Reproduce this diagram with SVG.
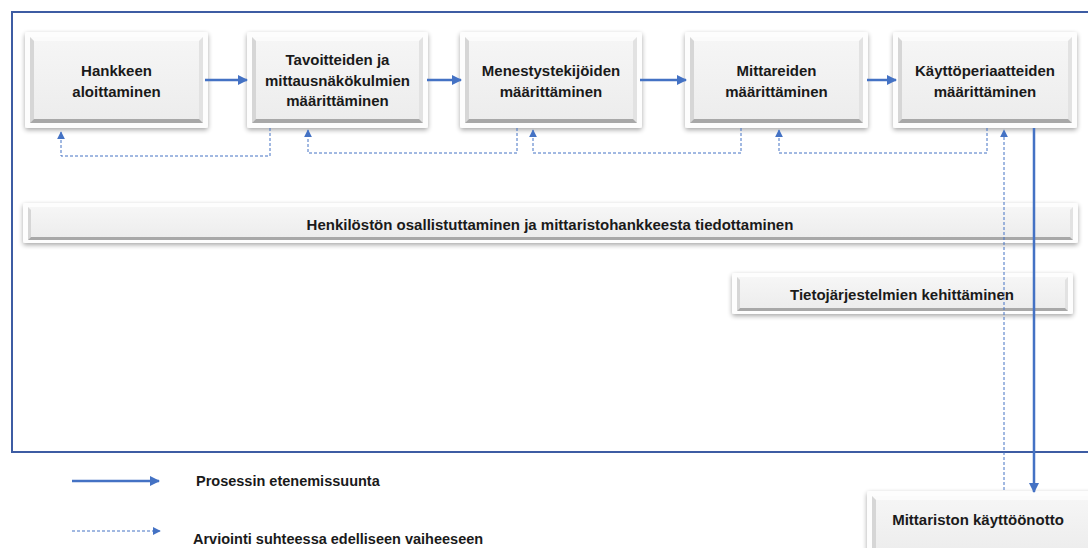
<svg xmlns="http://www.w3.org/2000/svg" width="1088" height="548" viewBox="0 0 1088 548">
  <style>
    .lbl { font-family: "Liberation Sans", Arial, sans-serif; font-weight: bold; font-size: 15px; fill: #1a1a1a; text-anchor: middle; }
    .leg { font-family: "Liberation Sans", Arial, sans-serif; font-weight: bold; font-size: 14.5px; fill: #1a1a1a; }
    .outer { fill: #fdfdfd; filter: url(#shadow); }
    .face { fill: url(#faceGrad); }
    .bt { fill: #fbfbfb; }
    .bl { fill: #d6d6d6; }
    .br { fill: #e2e2e2; }
    .bb { fill: #a8a8a8; }
    .flow { stroke: #4472C4; stroke-width: 2.5; fill: none; }
    .eval { stroke: #4472C4; stroke-width: 1; stroke-dasharray: 3 2; fill: none; }
  </style>
  <defs>
    <linearGradient id="faceGrad" x1="0" y1="0" x2="0" y2="1">
      <stop offset="0" stop-color="#f6f6f6"/>
      <stop offset="1" stop-color="#ececec"/>
    </linearGradient>
    <filter id="shadow" x="-10%" y="-20%" width="120%" height="150%">
      <feGaussianBlur in="SourceAlpha" stdDeviation="2.5"/>
      <feOffset dx="0" dy="2" result="b"/>
      <feComponentTransfer><feFuncA type="linear" slope="0.35"/></feComponentTransfer>
      <feMerge><feMergeNode/><feMergeNode in="SourceGraphic"/></feMerge>
    </filter>
    <marker id="arrowSolid" viewBox="0 0 10 10" refX="9" refY="5" markerWidth="4" markerHeight="4" orient="auto" markerUnits="strokeWidth">
      <path d="M0,0 L10,5 L0,10 z" fill="#4472C4"/>
    </marker>
    <marker id="arrowDash" viewBox="0 0 10 10" refX="9" refY="5" markerWidth="8" markerHeight="8" orient="auto" markerUnits="userSpaceOnUse">
      <path d="M0,0 L10,5 L0,10 z" fill="#4472C4"/>
    </marker>
  </defs>

  <rect width="1088" height="548" fill="#ffffff"/>

  <!-- outer frame -->
  <rect x="12" y="12" width="1090" height="440" fill="none" stroke="#3d5ca3" stroke-width="2"/>

  <!-- process steps -->
  <g id="step-aloitus">
    <rect class="outer" x="25" y="32" width="183" height="96" rx="2"/>
    <rect class="face" x="30" y="37" width="173" height="86"/>
    <polygon class="bt" points="30,37 203,37 199,41 34,41"/>
    <polygon class="bl" points="30,37 34,41 34,119 30,123"/>
    <polygon class="br" points="203,37 203,123 199,119 199,41"/>
    <polygon class="bb" points="30,123 203,123 199,119 34,119"/>
    <text class="lbl" x="116.5" y="76">Hankkeen</text>
    <text class="lbl" x="116.5" y="97">aloittaminen</text>
  </g>

  <g id="step-tavoitteet">
    <rect class="outer" x="247" y="32" width="181" height="96" rx="2"/>
    <rect class="face" x="252" y="37" width="171" height="86"/>
    <polygon class="bt" points="252,37 423,37 419,41 256,41"/>
    <polygon class="bl" points="252,37 256,41 256,119 252,123"/>
    <polygon class="br" points="423,37 423,123 419,119 419,41"/>
    <polygon class="bb" points="252,123 423,123 419,119 256,119"/>
    <text class="lbl" x="337.5" y="65">Tavoitteiden ja</text>
    <text class="lbl" x="337.5" y="86">mittausnäkökulmien</text>
    <text class="lbl" x="337.5" y="106">määrittäminen</text>
  </g>

  <g id="step-menestystekijat">
    <rect class="outer" x="460" y="32" width="182" height="96" rx="2"/>
    <rect class="face" x="465" y="37" width="172" height="86"/>
    <polygon class="bt" points="465,37 637,37 633,41 469,41"/>
    <polygon class="bl" points="465,37 469,41 469,119 465,123"/>
    <polygon class="br" points="637,37 637,123 633,119 633,41"/>
    <polygon class="bb" points="465,123 637,123 633,119 469,119"/>
    <text class="lbl" x="551" y="76">Menestystekijöiden</text>
    <text class="lbl" x="551" y="97">määrittäminen</text>
  </g>

  <g id="step-mittarit">
    <rect class="outer" x="685" y="32" width="183" height="96" rx="2"/>
    <rect class="face" x="690" y="37" width="173" height="86"/>
    <polygon class="bt" points="690,37 863,37 859,41 694,41"/>
    <polygon class="bl" points="690,37 694,41 694,119 690,123"/>
    <polygon class="br" points="863,37 863,123 859,119 859,41"/>
    <polygon class="bb" points="690,123 863,123 859,119 694,119"/>
    <text class="lbl" x="776.5" y="76">Mittareiden</text>
    <text class="lbl" x="776.5" y="97">määrittäminen</text>
  </g>

  <g id="step-kayttoperiaatteet">
    <rect class="outer" x="893" y="32" width="184" height="96" rx="2"/>
    <rect class="face" x="898" y="37" width="174" height="86"/>
    <polygon class="bt" points="898,37 1072,37 1068,41 902,41"/>
    <polygon class="bl" points="898,37 902,41 902,119 898,123"/>
    <polygon class="br" points="1072,37 1072,123 1068,119 1068,41"/>
    <polygon class="bb" points="898,123 1072,123 1068,119 902,119"/>
    <text class="lbl" x="985" y="76">Käyttöperiaatteiden</text>
    <text class="lbl" x="985" y="97">määrittäminen</text>
  </g>

  <!-- continuous activities -->
  <g id="band-henkilosto">
    <rect class="outer" x="23" y="203" width="1055" height="40" rx="2"/>
    <rect class="face" x="28" y="207" width="1045" height="33"/>
    <polygon class="bl" points="28,207 31,210 31,237 28,240"/>
    <polygon class="br" points="1073,207 1073,240 1070,237 1070,210"/>
    <polygon class="bb" points="28,240 1073,240 1070,237 31,237"/>
    <text class="lbl" x="550" y="230">Henkilöstön osallistuttaminen ja mittaristohankkeesta tiedottaminen</text>
  </g>

  <g id="band-tietojarjestelmat">
    <rect class="outer" x="732" y="273" width="341" height="41" rx="2"/>
    <rect class="face" x="737" y="277" width="331" height="34"/>
    <polygon class="bl" points="737,277 740,280 740,308 737,311"/>
    <polygon class="br" points="1068,277 1068,311 1065,308 1065,280"/>
    <polygon class="bb" points="737,311 1068,311 1065,308 740,308"/>
    <text class="lbl" x="902" y="300">Tietojärjestelmien kehittäminen</text>
  </g>

  <g id="step-kayttoonotto">
    <rect class="outer" x="867" y="491" width="230" height="70" rx="2"/>
    <rect class="face" x="872" y="496" width="220" height="60"/>
    <polygon class="bt" points="872,496 1092,496 1088,500 876,500"/>
    <polygon class="bl" points="872,496 876,500 876,556 872,556"/>
    <text class="lbl" x="978" y="525">Mittariston käyttöönotto</text>
  </g>

  <!-- connectors -->
  <g id="connectors">
    <line class="flow" x1="205" y1="80" x2="247" y2="80" marker-end="url(#arrowSolid)"/>
    <line class="flow" x1="427" y1="80" x2="461" y2="80" marker-end="url(#arrowSolid)"/>
    <line class="flow" x1="640" y1="80" x2="686" y2="80" marker-end="url(#arrowSolid)"/>
    <line class="flow" x1="867" y1="80" x2="896" y2="80" marker-end="url(#arrowSolid)"/>
    <line class="flow" x1="1034" y1="128" x2="1034" y2="492" marker-end="url(#arrowSolid)"/>

    <polyline class="eval" points="270,128 270,156 61,156 61,132" marker-end="url(#arrowDash)"/>
    <polyline class="eval" points="517,128 517,153 308,153 308,130" marker-end="url(#arrowDash)"/>
    <polyline class="eval" points="741,128 741,153 533,153 533,130" marker-end="url(#arrowDash)"/>
    <polyline class="eval" points="987,128 987,153 779,153 779,130" marker-end="url(#arrowDash)"/>
    <polyline class="eval" points="1004,490 1004,130" marker-end="url(#arrowDash)"/>
  </g>

  <!-- legend -->
  <g id="legend">
    <line class="flow" x1="72" y1="481" x2="159" y2="481" marker-end="url(#arrowSolid)"/>
    <text class="leg" x="196" y="486">Prosessin etenemissuunta</text>
    <line class="eval" x1="72" y1="531" x2="160" y2="531" stroke-dasharray="4 2" marker-end="url(#arrowDash)"/>
    <text class="leg" x="193" y="544">Arviointi suhteessa edelliseen vaiheeseen</text>
  </g>
</svg>
